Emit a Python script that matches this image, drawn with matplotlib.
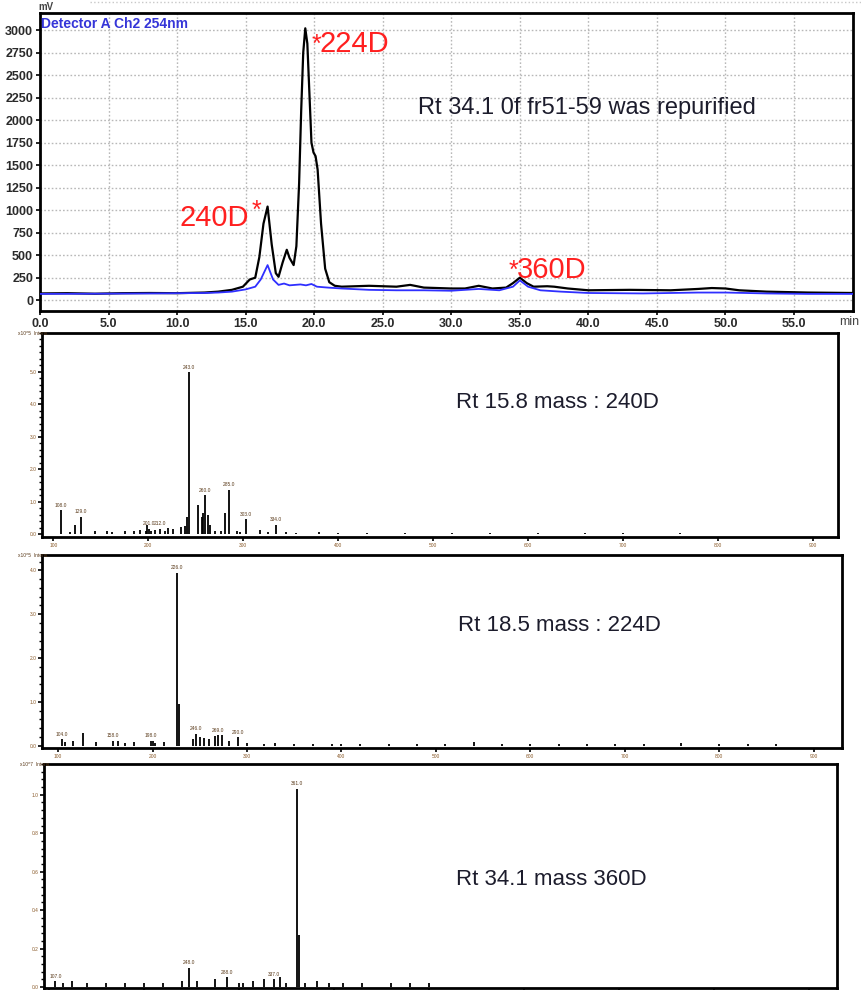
import matplotlib
matplotlib.use("Agg")
import matplotlib.pyplot as plt
from matplotlib.ticker import MultipleLocator, AutoMinorLocator
from matplotlib.lines import Line2D

plt.rcParams['font.family'] = ['Liberation Sans', 'DejaVu Sans']

# chromatogram (min, mV)
black_t = [0, 2, 4, 6, 8, 10, 12, 13, 14, 14.8, 15.3, 15.7, 16.0, 16.3, 16.6, 16.9, 17.2, 17.4,
           17.7, 18.0, 18.2, 18.5, 18.7, 18.9, 19.05, 19.2, 19.35, 19.5, 19.65, 19.8, 19.95, 20.1,
           20.25, 20.5, 20.8, 21.1, 21.5, 22, 24, 26, 27, 28, 30, 31, 32, 33, 34, 34.5, 35, 35.5,
           36, 37, 37.5, 38.5, 40, 43, 46, 48, 49, 50, 51, 53, 56, 59.3]
black_mv = [75, 78, 72, 78, 80, 78, 85, 95, 115, 150, 230, 250, 480, 850, 1040, 620, 300, 260,
            420, 560, 470, 390, 600, 1300, 2100, 2750, 3020, 2850, 2300, 1750, 1640, 1600,
            1450, 850, 350, 200, 160, 150, 160, 150, 170, 140, 130, 130, 160, 130, 140, 190, 250, 190,
            150, 155, 150, 130, 110, 115, 110, 125, 135, 130, 110, 95, 85, 80]

blue_t = [0, 4, 8, 12, 13, 14, 15, 15.7, 16.1, 16.6, 17.0, 17.4, 17.8, 18.2, 18.6, 19.0, 19.4,
          19.8, 20.2, 21, 22, 24, 26, 28, 30, 32, 33.5, 34.5, 35, 35.6, 36.5, 38, 40, 44, 48, 50,
          53, 56, 59.3]
blue_mv = [70, 72, 75, 80, 85, 95, 120, 150, 230, 390, 230, 170, 185, 165, 170, 175, 165,
           180, 150, 140, 130, 115, 110, 110, 105, 125, 110, 150, 220, 150, 110, 95, 80, 75, 85, 85,
           75, 70, 70]

ms1_mz = [108, 118, 123, 129, 144, 156, 162, 175, 185, 191, 197, 199, 201, 203, 207, 212, 217,
          221, 226, 234, 239, 241, 243, 252, 256, 258, 260, 263, 265, 270, 276, 281, 285, 293,
          296, 303, 318, 326, 334, 345, 355, 380, 400, 430, 470, 520, 560, 610, 660, 700, 760, 820]
ms1_int = [0.74, 0.06, 0.30, 0.55, 0.10, 0.12, 0.08, 0.12, 0.10, 0.14, 0.12, 0.28, 0.18, 0.12, 0.15,
           0.18, 0.12, 0.20, 0.18, 0.22, 0.25, 0.55, 5.00, 0.92, 0.55, 0.65, 1.20, 0.60, 0.30, 0.10,
           0.12, 0.65, 1.38, 0.10, 0.08, 0.46, 0.15, 0.06, 0.30, 0.06, 0.05, 0.08, 0.04, 0.05,
           0.03, 0.04, 0.03, 0.03, 0.04, 0.03, 0.03, 0.02]
ms1_lab = [108, 129, 201, 212, 243, 260, 285, 303, 334]

ms2_mz = [104, 107, 116, 126, 140, 158, 163, 171, 180, 198, 200, 203, 212, 226, 228, 243,
          246, 250, 255, 260, 266, 269, 274, 281, 290, 300, 318, 330, 350, 370, 390, 400,
          420, 450, 480, 510, 540, 570, 600, 630, 660, 690, 720, 760, 800, 830, 860]
ms2_int = [0.15, 0.08, 0.10, 0.30, 0.08, 0.12, 0.10, 0.06, 0.08, 0.12, 0.10, 0.06, 0.08,
           3.95, 0.95, 0.15, 0.28, 0.20, 0.18, 0.15, 0.22, 0.25, 0.25, 0.10, 0.20, 0.06,
           0.05, 0.06, 0.05, 0.04, 0.05, 0.03, 0.04, 0.03, 0.05, 0.04, 0.08, 0.04, 0.05,
           0.04, 0.03, 0.04, 0.03, 0.06, 0.04, 0.03, 0.03]
ms2_lab = [104, 158, 198, 226, 246, 269, 290]

ms3_mz = [107, 115, 125, 140, 160, 180, 200, 220, 240, 248, 256, 275, 288, 300, 305, 315,
          327, 337, 344, 350, 361, 363, 370, 382, 395, 410, 430, 460, 480, 500]
ms3_int = [0.03, 0.02, 0.03, 0.02, 0.02, 0.02, 0.02, 0.02, 0.03, 0.10, 0.03, 0.04, 0.05,
           0.02, 0.02, 0.03, 0.04, 0.04, 0.05, 0.02, 1.03, 0.27, 0.02, 0.03, 0.02, 0.02,
           0.02, 0.02, 0.02, 0.02]
ms3_lab = [107, 248, 288, 337, 361]

fig = plt.figure(figsize=(8.61, 9.9), dpi=100)
W, H = 861.0, 990.0


def box(l, t, r, b):
    return [l / W, 1 - b / H, (r - l) / W, (b - t) / H]


txtc = '#1c1c2c'

# ---- chromatogram
ax = fig.add_axes(box(40, 13, 853, 311))
ax.plot(black_t, black_mv, color='black', lw=1.6, zorder=3)
ax.plot(blue_t, blue_mv, color='#2f2fff', lw=1.3, zorder=4)
ax.set_xlim(0, 59.3)
ax.set_ylim(-120, 3190)
ax.set_xticks(range(0, 60, 5))
ax.set_xticklabels(['%.1f' % v for v in range(0, 60, 5)])
ax.set_yticks(range(0, 3001, 250))
ax.grid(True, color='#b8b8b8', ls=(0, (1.2, 1.5)), lw=1.0)
ax.tick_params(labelsize=9, length=3, width=1.2, pad=2)
for lab in ax.get_xticklabels() + ax.get_yticklabels():
    lab.set_fontweight('bold')
    lab.set_color('#2a2a2a')
for s in ax.spines.values():
    s.set_linewidth(2)
ax.text(-0.1, 3200, 'mV', fontsize=7, fontweight='bold', color='#444444', va='bottom',
        clip_on=False)
ax.text(58.3, -244, 'min', fontsize=9, color='#444444', va='center', clip_on=False)
ax.text(0.1, 3020, 'Detector A Ch2 254nm', fontsize=10, fontweight='bold', color='#3535d8')

red = '#ff2020'
ax.text(19.8, 2760, '*', fontsize=18, color=red, va='baseline')
ax.text(20.4, 2760, '224D', fontsize=21, color=red, va='baseline')
ax.text(10.2, 820, '240D', fontsize=21, color=red, va='baseline')
ax.text(15.4, 920, '*', fontsize=18, color=red, va='baseline')
ax.text(34.2, 250, '*', fontsize=18, color=red, va='baseline')
ax.text(34.8, 250, '360D', fontsize=21, color=red, va='baseline')
ax.text(27.6, 2140, 'Rt 34.1 0f fr51-59 was repurified', fontsize=17, color=txtc, va='center')

# faint dotted rule above the chart
fig.add_artist(Line2D([90 / W, 1], [1 - 2 / H, 1 - 2 / H], color='#c8c8c8', ls=':', lw=1))


def spectrum(rect, mz, inten, labs, xlim, ylim, yt, title, ttl_y, hdr, show_x=True):
    a = fig.add_axes(box(*rect))
    a.vlines(mz, 0, inten, color='black', lw=1.3)
    a.set_xlim(*xlim)
    a.set_ylim(*ylim)
    a.set_yticks(yt)
    a.set_yticklabels(['%.1f' % v for v in yt])
    a.yaxis.set_minor_locator(AutoMinorLocator(5))
    a.set_xticks(range(100, int(xlim[1]) + 1, 100))
    a.set_xticklabels(['%d' % v for v in range(100, int(xlim[1]) + 1, 100)])
    a.tick_params(labelsize=3.5, length=3, width=1.2, pad=1, colors='black', labelcolor='#8a5a2a',
                  labelbottom=show_x)
    a.tick_params(which='minor', length=2, width=1)
    for s in a.spines.values():
        s.set_linewidth(2)
    for m in labs:
        i = mz.index(m)
        a.text(m, inten[i] + ylim[1] * 0.012, '%.1f' % m, fontsize=3.5, ha='center',
               va='bottom', color='#5a3a1a')
    a.text(0.52, ttl_y, title, transform=a.transAxes, fontsize=16, color=txtc, va='center')
    a.text(-0.03, 0.985, hdr, transform=a.transAxes, fontsize=3.5, color='#5a3a1a',
           va='bottom', clip_on=False)
    return a


spectrum((42, 333, 838, 537), ms1_mz, ms1_int, ms1_lab, (88, 926), (-0.08, 6.2),
         [0, 1, 2, 3, 4, 5], 'Rt 15.8 mass : 240D', 0.66, 'x10^5  Intens.')
spectrum((42, 555, 842, 748), ms2_mz, ms2_int, ms2_lab, (83, 930), (-0.05, 4.35),
         [0, 1, 2, 3, 4], 'Rt 18.5 mass : 224D', 0.635, 'x10^5  Intens.')
spectrum((44, 764, 837, 988), ms3_mz, ms3_int, ms3_lab, (95, 930), (-0.005, 1.16),
         [0, 0.2, 0.4, 0.6, 0.8, 1.0], 'Rt 34.1 mass 360D', 0.485, 'x10^7  Intens.',
         show_x=False)

fig.savefig('out.png', dpi=100)
